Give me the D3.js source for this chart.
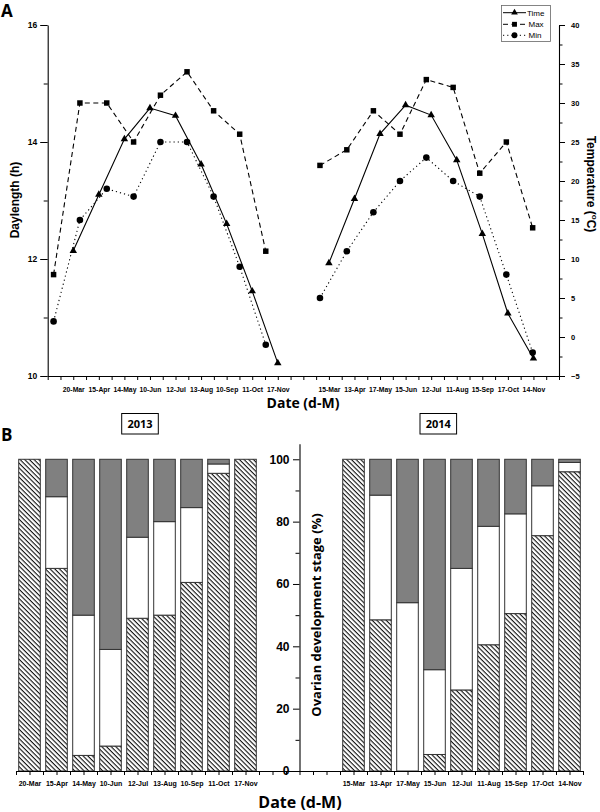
<!DOCTYPE html>
<html>
<head>
<meta charset="utf-8">
<script src="https://cdn.jsdelivr.net/npm/d3@7"></script>
<style>body{margin:0;background:#fff}</style>
</head>
<body>
<svg id="chart" width="600" height="812"></svg>
<script>
// ===== data =====
const dates2013 = ['20-Mar', '15-Apr', '14-May', '10-Jun', '12-Jul', '13-Aug', '10-Sep', '11-Oct', '17-Nov'];
const dates2014 = ['15-Mar', '13-Apr', '17-May', '15-Jun', '12-Jul', '11-Aug', '15-Sep', '17-Oct', '14-Nov'];

// daylength (h), one per sampling date
const daylength2013 = [12.14, 13.10, 14.05, 14.58, 14.45, 13.62, 12.60, 11.45, 10.22];
const daylength2014 = [11.93, 13.03, 14.14, 14.63, 14.46, 13.69, 12.43, 11.07, 10.30];

// temperature (C), plotted at their own positions on the date axis
const tempPos2013 = [0.23, 1.26, 2.31, 3.36, 4.41, 5.45, 6.49, 7.51, 8.53];
const tempPos2014 = [10.65, 11.70, 12.74, 13.78, 14.81, 15.86, 16.90, 17.94, 18.97];
const maxTemp2013 = [8, 30, 30, 25, 31, 34, 29, 26, 11];
const minTemp2013 = [2, 15, 19, 18, 25, 25, 18, 9, -1];
const maxTemp2014 = [22, 24, 29, 26, 33, 32, 21, 25, 14];
const minTemp2014 = [5, 11, 16, 20, 23, 20, 18, 8, -2];

// ovarian development stage (%), bottom to top: hatched, white, grey
const stageHatch2013 = [100, 65, 5, 8, 49, 50, 60.5, 95.5, 100];
const stageWhite2013 = [0, 23, 45, 31, 26, 30, 24, 3, 0];
const stageGrey2013  = [0, 12, 50, 61, 25, 20, 15.5, 1.5, 0];
const stageHatch2014 = [100, 48.5, 0, 5.3, 26, 40.5, 50.5, 75.5, 96];
const stageWhite2014 = [0, 40, 54, 27.2, 39, 38, 32, 16, 3];
const stageGrey2014  = [0, 11.5, 46, 67.5, 35, 21.5, 17.5, 8.5, 1];

const dayTicks = [10, 12, 14, 16];
const tempTicks = [-5, 0, 5, 10, 15, 20, 25, 30, 35, 40];
const pctTicks = [0, 20, 40, 60, 80, 100];

// ===== setup =====
const svg = d3.select('#chart');
const tickFont = '"Liberation Sans", Arial, sans-serif';
const labelFont = '"Open Sans", "Liberation Sans", sans-serif';

const defs = svg.append('defs');
const hatch = defs.append('pattern')
  .attr('id', 'hatch')
  .attr('patternUnits', 'userSpaceOnUse')
  .attr('width', 6).attr('height', 3.3)
  .attr('patternTransform', 'rotate(45)');
hatch.append('rect').attr('width', 6).attr('height', 3.3).attr('fill', '#fff');
hatch.append('rect').attr('width', 6).attr('height', 1.1).attr('fill', '#111');

function styleAxis(g, size) {
  g.attr('font-family', tickFont).attr('font-size', size).attr('font-weight', 'bold');
  g.selectAll('line').attr('stroke', '#000');
  g.select('.domain').attr('stroke', '#000').attr('stroke-width', 1.1);
  g.selectAll('text').attr('fill', '#000');
}

//=====================//
//===== Panel A =======//
//=====================//
const xTop = d3.scaleLinear().domain([0, 20]).range([47.7, 559]);
const yDay = d3.scaleLinear().domain([10, 16]).range([376, 25]);
const yTemp = d3.scaleLinear().domain([-5, 40]).range([376, 25]);

const topLabel = d => {
  if (!Number.isInteger(d)) return '';
  if (d >= 1 && d <= 9) return dates2013[d - 1];
  if (d >= 11 && d <= 19) return dates2014[d - 11];
  return '';
};

svg.append('g').attr('transform', 'translate(0,376)')
  .call(d3.axisBottom(xTop).tickValues(d3.range(0, 20.01, 0.5)).tickSize(4).tickSizeOuter(0).tickPadding(7).tickFormat(topLabel))
  .call(g => styleAxis(g, 6.8));

svg.append('g').attr('transform', `translate(${xTop(0)},0)`)
  .call(d3.axisLeft(yDay).tickValues(dayTicks).tickSize(7.5).tickSizeOuter(0).tickPadding(3).tickFormat(d3.format('d')))
  .call(g => styleAxis(g, 8.5));
svg.append('g').attr('transform', `translate(${xTop(0)},0)`)
  .call(d3.axisLeft(yDay).tickValues([11, 13, 15]).tickSize(4).tickFormat(''))
  .call(g => { styleAxis(g, 8); g.select('.domain').remove(); });

svg.append('g').attr('transform', `translate(${xTop(20)},0)`)
  .call(d3.axisRight(yTemp).tickValues(tempTicks).tickSize(6).tickSizeOuter(0).tickPadding(6))
  .call(g => styleAxis(g, 7.5));
svg.append('g').attr('transform', `translate(${xTop(20)},0)`)
  .call(d3.axisRight(yTemp).tickValues(d3.range(-2.5, 40, 5)).tickSize(3.5).tickFormat(''))
  .call(g => { styleAxis(g, 8); g.select('.domain').remove(); });

const lineStyles = {
  time: {dash: null, sym: d3.symbolTriangle, size: 24},
  max: {dash: '5,3.5', sym: d3.symbolSquare, size: 30},
  min: {dash: '1.2,3', sym: d3.symbolCircle, size: 34}
};

const series = [
  {key: 'time', pts: daylength2013.map((v, i) => [xTop(i + 1), yDay(v)])},
  {key: 'time', pts: daylength2014.map((v, i) => [xTop(i + 11), yDay(v)])},
  {key: 'max', pts: maxTemp2013.map((v, i) => [xTop(tempPos2013[i]), yTemp(v)])},
  {key: 'max', pts: maxTemp2014.map((v, i) => [xTop(tempPos2014[i]), yTemp(v)])},
  {key: 'min', pts: minTemp2013.map((v, i) => [xTop(tempPos2013[i]), yTemp(v)])},
  {key: 'min', pts: minTemp2014.map((v, i) => [xTop(tempPos2014[i]), yTemp(v)])}
];

const line = d3.line();
const plot = svg.append('g');
series.forEach(s => {
  const st = lineStyles[s.key];
  plot.append('path')
    .attr('d', line(s.pts))
    .attr('fill', 'none')
    .attr('stroke', '#000')
    .attr('stroke-width', 1.1)
    .attr('stroke-dasharray', st.dash);
  plot.selectAll(null)
    .data(s.pts)
    .join('path')
      .attr('transform', d => `translate(${d[0]},${d[1]})`)
      .attr('d', d3.symbol(st.sym, st.size))
      .attr('fill', '#000');
});

// legend
const legend = svg.append('g').attr('font-family', tickFont).attr('font-size', 8);
legend.append('rect').attr('x', 501.5).attr('y', 5.5).attr('width', 49).attr('height', 36)
  .attr('fill', '#fff').attr('stroke', '#666').attr('stroke-width', 0.8);
[['time', 'Time', 12.7], ['max', 'Max', 24.3], ['min', 'Min', 35.3]].forEach(([k, name, y]) => {
  const st = lineStyles[k];
  legend.append('line').attr('x1', 503).attr('x2', 526).attr('y1', y).attr('y2', y)
    .attr('stroke', '#000').attr('stroke-width', 1).attr('stroke-dasharray', st.dash);
  legend.append('path').attr('transform', `translate(514.5,${y})`)
    .attr('d', d3.symbol(st.sym, st.size * 0.8)).attr('fill', '#000');
  legend.append('text').attr('x', k === 'time' ? 527 : 528.5).attr('y', y + 3).text(name);
});

svg.append('text').attr('transform', 'translate(19,200) rotate(-90)')
  .attr('text-anchor', 'middle').attr('font-family', tickFont).attr('font-weight', 'bold')
  .attr('font-size', 12).text('Daylength (h)');

const tlab = svg.append('text').attr('transform', 'translate(587,184) rotate(90)')
  .attr('text-anchor', 'middle').attr('font-family', tickFont).attr('font-weight', 'bold')
  .attr('font-size', 12);
tlab.append('tspan').text('Temperature (');
tlab.append('tspan').attr('font-size', 8).attr('dy', -5).text('o');
tlab.append('tspan').attr('dy', 5).text('C)');

svg.append('text').attr('x', 303).attr('y', 408).attr('text-anchor', 'middle')
  .attr('font-family', labelFont).attr('font-weight', 'bold').attr('font-size', 14).text('Date (d-M)');

svg.append('text').attr('x', 1).attr('y', 17).attr('font-family', labelFont)
  .attr('font-weight', 'bold').attr('font-size', 17).text('A');

//=====================//
//===== Panel B =======//
//=====================//
const idx = d3.range(21);
const xBand = d3.scaleBand().domain(idx).range([16, 583]).paddingInner(0.2).paddingOuter(0.1);
const xBot = d3.scaleLinear().domain([-0.5, 20.5]).range([16, 583]);
const yBot = d3.scaleLinear().domain([0, 105]).range([771, 443.7]);

const rows = [
  ...dates2013.map((d, i) => ({pos: i, hatch: stageHatch2013[i], white: stageWhite2013[i], grey: stageGrey2013[i]})),
  ...dates2014.map((d, i) => ({pos: i + 12, hatch: stageHatch2014[i], white: stageWhite2014[i], grey: stageGrey2014[i]}))
];
const stacked = d3.stack().keys(['hatch', 'white', 'grey'])(rows);
const fills = {hatch: 'url(#hatch)', white: '#fff', grey: '#808080'};

svg.append('g')
  .selectAll('g')
  .data(stacked)
  .join('g')
    .attr('fill', s => fills[s.key])
  .selectAll('rect')
  .data(s => s.filter(d => d[1] - d[0] > 0))
  .join('rect')
    .attr('x', d => xBand(d.data.pos))
    .attr('width', xBand.bandwidth())
    .attr('y', d => yBot(d[1]))
    .attr('height', d => yBot(d[0]) - yBot(d[1]))
    .attr('stroke', '#333')
    .attr('stroke-width', 1);

const botLabel = d => {
  if (!Number.isInteger(d)) return '';
  if (d >= 0 && d <= 8) return dates2013[d];
  if (d >= 12 && d <= 20) return dates2014[d - 12];
  return '';
};

svg.append('g').attr('transform', 'translate(0,771)')
  .call(d3.axisBottom(xBot).tickValues(d3.range(-0.5, 20.51, 0.5)).tickSize(4).tickSizeOuter(0).tickPadding(6.5).tickFormat(botLabel))
  .call(g => styleAxis(g, 7));

const yAxisX = xBot(10);
svg.append('g').attr('transform', `translate(${yAxisX},0)`)
  .call(d3.axisLeft(yBot).tickValues(pctTicks).tickSize(6.5).tickSizeOuter(0).tickPadding(3.5))
  .call(g => styleAxis(g, 12));
svg.append('g').attr('transform', `translate(${yAxisX},0)`)
  .call(d3.axisLeft(yBot).tickValues([10, 30, 50, 70, 90]).tickSize(4).tickFormat(''))
  .call(g => { styleAxis(g, 8); g.select('.domain').remove(); });

svg.append('text').attr('transform', 'translate(321,615) rotate(-90)')
  .attr('text-anchor', 'middle').attr('font-family', labelFont).attr('font-weight', 'bold')
  .attr('font-size', 13).text('Ovarian development stage (%)');

[['2013', 140], ['2014', 438.3]].forEach(([yr, cx]) => {
  svg.append('rect').attr('x', cx - 18.3).attr('y', 413.5).attr('width', 36.6).attr('height', 20.5)
    .attr('fill', '#fff').attr('stroke', '#000').attr('stroke-width', 1);
  svg.append('text').attr('x', cx).attr('y', 428).attr('text-anchor', 'middle')
    .attr('font-family', labelFont).attr('font-weight', 'bold').attr('font-size', 11).text(yr);
});

svg.append('text').attr('x', 300).attr('y', 808).attr('text-anchor', 'middle')
  .attr('font-family', labelFont).attr('font-weight', 'bold').attr('font-size', 16).text('Date (d-M)');

svg.append('text').attr('x', 1).attr('y', 441).attr('font-family', labelFont)
  .attr('font-weight', 'bold').attr('font-size', 17).text('B');
</script>
</body>
</html>
